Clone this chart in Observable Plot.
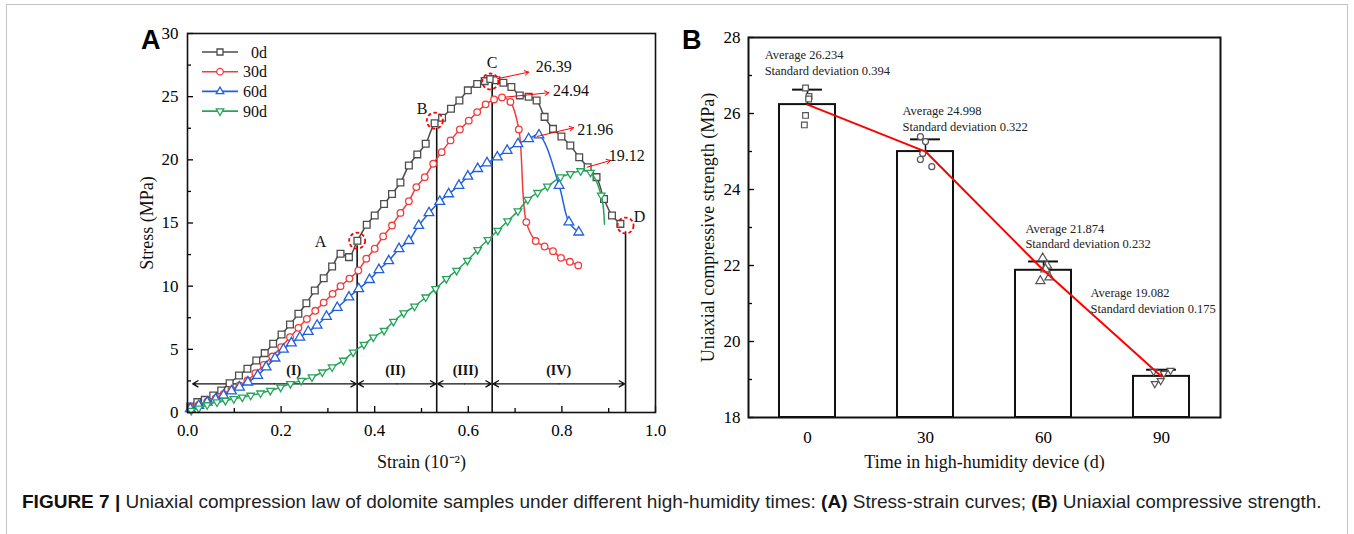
<!DOCTYPE html>
<html><head><meta charset="utf-8">
<script src="https://cdn.jsdelivr.net/npm/d3@7"></script>
<script src="https://cdn.jsdelivr.net/npm/@observablehq/plot@0.6"></script>
<style>
body{margin:0;background:#fff;}
#wrap{position:relative;width:1354px;height:534px;overflow:hidden;background:#fff;font-family:"Liberation Serif","Times New Roman",serif;}
#border{position:absolute;left:6px;top:4px;width:1342px;height:560px;border:1px solid #c4c4c4;box-sizing:border-box;}
.letter{position:absolute;font-family:"Liberation Sans",Arial,sans-serif;font-weight:bold;font-size:27px;line-height:27px;color:#000;}
#caption{position:absolute;left:22px;top:491px;font-family:"Liberation Sans",Arial,sans-serif;font-size:19px;color:#222;white-space:nowrap;}
#caption b{color:#111;}
.plot{position:absolute;top:0;}
#legend{position:absolute;left:195px;top:40px;}
</style></head>
<body><div id="wrap">
<div id="border"></div>
<div class="letter" style="left:141px;top:27px;">A</div>
<div class="letter" style="left:682px;top:27px;">B</div>
<div id="plotA" class="plot" style="left:100px;"></div>
<div id="plotB" class="plot" style="left:680px;"></div>
<svg id="legend" width="90" height="85"></svg>
<div id="caption"><b>FIGURE 7 |</b> Uniaxial compression law of dolomite samples under different high-humidity times: <b>(A)</b> Stress-strain curves; <b>(B)</b> Uniaxial compressive strength.</div>
</div>
<script>
// ---------- Panel A data ----------
const seriesNames = ["0d", "30d", "60d", "90d"];
const seriesColors = ["#4d4d4d", "#f23c3c", "#1f5fe0", "#25a55a"];

const strain0d = [0.006,0.021,0.037,0.055,0.072,0.09,0.11,0.128,0.147,0.165,0.183,0.201,0.219,0.237,0.254,0.272,0.291,0.309,0.327,0.345,0.363,0.383,0.40,0.42,0.437,0.455,0.473,0.491,0.509,0.528,0.544,0.563,0.581,0.599,0.619,0.635,0.647,0.66,0.675,0.692,0.71,0.729,0.746,0.763,0.781,0.799,0.818,0.837,0.855,0.874,0.89,0.907,0.925];
const stress0d = [0.47,0.82,1.0,1.35,1.74,2.32,2.93,3.46,4.12,4.7,5.44,6.18,6.97,7.81,8.65,9.66,10.63,11.56,12.57,12.3,13.6,14.86,15.6,16.5,17.3,18.2,19.55,20.43,21.27,22.9,23.33,24.05,24.7,25.5,26.0,26.23,26.39,26.3,26.1,25.76,25.1,25.0,24.7,23.4,22.45,21.85,21.14,20.2,19.42,18.63,16.9,15.6,14.93];

const strain30d = [0.006,0.024,0.042,0.06,0.077,0.094,0.111,0.128,0.145,0.163,0.181,0.2,0.219,0.237,0.255,0.273,0.291,0.31,0.327,0.346,0.365,0.382,0.4,0.418,0.437,0.455,0.473,0.489,0.507,0.525,0.543,0.562,0.582,0.601,0.619,0.637,0.655,0.672,0.69,0.708,0.724,0.744,0.763,0.781,0.798,0.817,0.835];
const stress30d = [0.4,0.6,0.85,1.12,1.45,1.8,2.15,2.53,3.11,3.77,4.43,5.17,5.96,6.7,7.4,8.05,8.7,9.39,10.0,10.6,11.24,12.17,12.96,13.94,14.8,15.8,16.73,17.84,18.63,19.69,20.61,21.54,22.4,23.1,23.78,24.39,24.78,24.94,24.58,22.41,15.07,13.57,13.14,12.77,12.24,11.93,11.64];

const strain60d = [0.006,0.024,0.042,0.06,0.077,0.094,0.111,0.129,0.15,0.168,0.187,0.205,0.222,0.24,0.258,0.277,0.297,0.32,0.345,0.366,0.389,0.409,0.43,0.452,0.473,0.494,0.516,0.539,0.558,0.58,0.599,0.62,0.64,0.662,0.683,0.706,0.729,0.751,0.794,0.815,0.836];
const stress60d = [0.3,0.55,0.8,1.05,1.35,1.7,2.0,2.4,2.93,3.6,4.3,5.0,5.5,5.95,6.4,6.9,7.6,8.3,9.13,9.79,10.51,11.3,12.0,12.96,13.6,14.8,15.8,16.7,17.3,17.97,18.7,19.3,19.75,20.22,20.74,21.27,21.66,21.96,17.97,15.07,14.27];

const strain90d = [0.008,0.024,0.042,0.063,0.081,0.099,0.117,0.135,0.156,0.177,0.199,0.22,0.243,0.266,0.288,0.309,0.333,0.354,0.377,0.397,0.42,0.44,0.462,0.485,0.509,0.53,0.553,0.575,0.598,0.62,0.642,0.663,0.684,0.706,0.727,0.748,0.769,0.797,0.818,0.84,0.861,0.884,0.891];
const stress90d = [0.16,0.34,0.6,0.82,0.95,1.08,1.21,1.35,1.53,1.74,2.0,2.27,2.53,2.8,3.19,3.59,4.12,4.77,5.38,5.96,6.49,7.2,7.87,8.4,9.13,9.79,10.58,11.24,12.03,12.88,13.67,14.4,15.15,15.94,16.85,17.4,17.9,18.63,18.9,19.12,19.0,17.2,14.9];
// the last recorded point of each curve is drawn with a marker except for 90d
const lastPointMarked = [true, true, true, false];

// phases
const phaseLabels = ["(I)", "(II)", "(III)", "(IV)"];
const phaseStart = [0.009, 0.3625, 0.5325, 0.651];
const phaseEnd = [0.3625, 0.5325, 0.651, 0.936];
const phaseLabelStrain = [0.227, 0.444, 0.594, 0.793];
const phaseArrowStress = 2.27;
const phaseLabelStress = 3.3;
const boundTop = [13.2, 22.5, 26.3, 14.3];

// characteristic points
const pointLabels = ["A", "B", "C", "D"];
const pointStrain = [0.3625, 0.5285, 0.647, 0.936];
const pointStress = [13.6, 23.1, 26.2, 14.8];
const pointLabelStrain = [0.284, 0.501, 0.651, 0.966];
const pointLabelStress = [13.5, 24.05, 27.7, 15.46];

// peak annotations
const peakLabels = ["26.39", "24.94", "21.96", "19.12"];
const peakStartStrain = [0.662, 0.679, 0.747, 0.854];
const peakStartStress = [26.42, 24.96, 21.85, 19.42];
const peakEndStrain = [0.729, 0.772, 0.825, 0.904];
const peakEndStress = [26.94, 25.31, 22.54, 19.95];
const peakTextStrain = [0.744, 0.781, 0.833, 0.9];
const peakTextStress = [27.34, 25.44, 22.4, 20.35];

// axis ticks A
const xTicksA = [0, 0.2, 0.4, 0.6, 0.8, 1.0];
const xMinorA = [0.1, 0.3, 0.5, 0.7, 0.9];
const yTicksA = [0, 5, 10, 15, 20, 25, 30];
const yMinorA = [2.5, 7.5, 12.5, 17.5, 22.5, 27.5];

// ---------- Panel B data ----------
const bTimes = [0, 30, 60, 90];
const bMeans = [26.234, 24.998, 21.874, 19.082];
const bSD = [0.394, 0.322, 0.232, 0.175];
const sampleX0 = [-0.5, 0.4, 0.3, -0.5, -0.8];
const sampleY0 = [26.67, 26.45, 26.38, 25.95, 25.70];
const sampleX30 = [28.7, 30.0, 29.3, 28.7, 31.6];
const sampleY30 = [25.39, 25.26, 24.95, 24.79, 24.60];
const sampleX60 = [59.8, 60.9, 61.5, 59.2, 60.5];
const sampleY60 = [22.19, 22.0, 21.69, 21.59, 21.9];
const sampleX90 = [88.0, 90.6, 92.3, 89.8, 88.3];
const sampleY90 = [19.21, 19.16, 19.24, 18.97, 18.89];
const annX = [-10.9, 24.15, 55.4, 71.95];
const annY = [27.355, 25.88, 22.79, 21.1];
const yTicksB = [18, 20, 22, 24, 26, 28];
const yMinorB = [19, 21, 23, 25, 27];

// ---------- helpers ----------
const triangleDown = {
  draw(context, size) {
    const s = Math.sqrt(size) * 0.6824, t = s / 2, u = s * Math.sqrt(3) / 2;
    context.moveTo(0, s); context.lineTo(u, -t); context.lineTo(-u, -t); context.closePath();
  }
};
const seriesSymbols = ["square", "circle", "triangle", triangleDown];
const seriesR = [3.8, 3.3, 3.6, 3.6];
const strains = [strain0d, strain30d, strain60d, strain90d];
const stresses = [stress0d, stress30d, stress60d, stress90d];
const serif = '"Liberation Serif","Times New Roman",serif';

// ---------- Panel A ----------
const seriesMarks = [];
seriesNames.forEach((name, i) => {
  const rows = strains[i].map((s, j) => ({s, v: stresses[i][j]}));
  const marked = lastPointMarked[i] ? rows : rows.slice(0, -1);
  seriesMarks.push(Plot.line(rows, {x: "s", y: "v", stroke: seriesColors[i], strokeWidth: 1.5, curve: "catmull-rom"}));
  seriesMarks.push(Plot.dot(marked, {x: "s", y: "v", symbol: seriesSymbols[i], r: seriesR[i], stroke: seriesColors[i], fill: "white", strokeWidth: 1.3}));
});

const phases = phaseLabels.map((l, i) => ({l, a: phaseStart[i], b: phaseEnd[i], mid: (phaseStart[i] + phaseEnd[i]) / 2, lx: phaseLabelStrain[i]}));
const bounds = phaseEnd.map((s, i) => ({s, top: boundTop[i]}));
const points = pointLabels.map((l, i) => ({l, s: pointStrain[i], v: pointStress[i], ls: pointLabelStrain[i], lv: pointLabelStress[i]}));
const peaks = peakLabels.map((l, i) => ({l, s1: peakStartStrain[i], v1: peakStartStress[i], s2: peakEndStrain[i], v2: peakEndStress[i], ts: peakTextStrain[i], tv: peakTextStress[i]}));

const plotA = Plot.plot({
  width: 580, height: 480,
  marginLeft: 87, marginRight: 25, marginTop: 33, marginBottom: 68,
  x: {domain: [0, 1]},
  y: {domain: [0, 30]},
  style: {fontFamily: serif, fontSize: "17px", color: "#000", background: "transparent", overflow: "visible"},
  marks: [
    Plot.axisX(xTicksA, {tickSize: -6, tickPadding: 17, tickFormat: d3.format(".1f"), label: null, strokeWidth: 1.3}),
    Plot.axisX(xMinorA, {tickSize: -4, tickFormat: () => "", label: null, strokeWidth: 1.3}),
    Plot.axisY(yTicksA, {tickSize: -6, tickPadding: 15, label: null, strokeWidth: 1.3}),
    Plot.axisY(yMinorA, {tickSize: -4, tickFormat: () => "", label: null, strokeWidth: 1.3}),
    Plot.ruleX(bounds, {x: "s", y1: 0, y2: "top", stroke: "#111", strokeWidth: 1.6}),
    Plot.arrow(phases, {x1: "mid", x2: "a", y1: phaseArrowStress, y2: phaseArrowStress, stroke: "#111", strokeWidth: 1.3, headLength: 7, insetEnd: 1}),
    Plot.arrow(phases, {x1: "mid", x2: "b", y1: phaseArrowStress, y2: phaseArrowStress, stroke: "#111", strokeWidth: 1.3, headLength: 7, insetEnd: 1}),
    Plot.text(phases, {x: "lx", y: phaseLabelStress, text: "l", fontWeight: "bold", fontSize: 14, fill: "#111"}),
    ...seriesMarks,
    Plot.dot(points, {x: "s", y: "v", r: 8, stroke: "#f00", strokeWidth: 1.8, strokeDasharray: "3.5,2.5", fill: "none"}),
    Plot.text(points, {x: "ls", y: "lv", text: "l", fontSize: 16, fill: "#111"}),
    Plot.arrow(peaks, {x1: "s1", y1: "v1", x2: "s2", y2: "v2", stroke: "#f00", strokeWidth: 1, headLength: 7}),
    Plot.text(peaks, {x: "ts", y: "tv", text: "l", textAnchor: "start", fontSize: 16, fill: "#111"}),
    Plot.text(["Stress (MPa)"], {frameAnchor: "left", dx: -40, rotate: -90, textAnchor: "middle", lineAnchor: "middle", fontSize: 18, fill: "#111"}),
    Plot.text(["Strain (10\u207B\u00B2)"], {frameAnchor: "bottom", dy: 50, textAnchor: "middle", lineAnchor: "middle", fontSize: 18, fill: "#111"}),
    Plot.frame({stroke: "#111", strokeWidth: 1.6})
  ]
});
document.getElementById("plotA").appendChild(plotA);

// ---------- Panel B ----------
const barHalf = 7.12, capHalf = 3.8;
const barRows = bTimes.map((t, i) => ({t, m: bMeans[i], sd: bSD[i],
  txt: `Average ${bMeans[i].toFixed(3)}\nStandard deviation ${bSD[i].toFixed(3)}`, ax: annX[i], ay: annY[i]}));
const sampleXs = [sampleX0, sampleX30, sampleX60, sampleX90];
const sampleYs = [sampleY0, sampleY30, sampleY60, sampleY90];
const sampleSymbols = ["square", "circle", "triangle", triangleDown];
const sampleR = [3.2, 3.0, 3.4, 3.4];
const sampleMarks = sampleXs.map((xs, i) =>
  Plot.dot(xs.map((x, j) => ({x, y: sampleYs[i][j]})), {x: "x", y: "y", symbol: sampleSymbols[i], r: sampleR[i], stroke: "#555", fill: "white", strokeWidth: 1.2}));

const plotB = Plot.plot({
  width: 560, height: 480,
  marginLeft: 68, marginRight: 20, marginTop: 37, marginBottom: 63,
  x: {domain: [-15, 105]},
  y: {domain: [18, 28]},
  style: {fontFamily: serif, fontSize: "17px", color: "#000", background: "transparent", overflow: "visible"},
  marks: [
    Plot.axisY(yTicksB, {tickSize: -6, tickPadding: 14, label: null, strokeWidth: 1.3}),
    Plot.axisY(yMinorB, {tickSize: -4, tickFormat: () => "", label: null, strokeWidth: 1.3}),
    Plot.axisX(bTimes, {tickSize: 0, tickPadding: 13, label: null}),
    Plot.rectY(barRows, {x1: d => d.t - barHalf, x2: d => d.t + barHalf, y1: 18, y2: "m", fill: "white", stroke: "#111", strokeWidth: 2}),
    Plot.ruleX(barRows, {x: "t", y1: "m", y2: d => d.m + d.sd, stroke: "#111", strokeWidth: 1.5}),
    Plot.ruleY(barRows, {y: d => d.m + d.sd, x1: d => d.t - capHalf, x2: d => d.t + capHalf, stroke: "#111", strokeWidth: 2}),
    ...sampleMarks,
    Plot.line(barRows, {x: "t", y: "m", stroke: "#f00", strokeWidth: 2}),
    Plot.text(barRows, {x: "ax", y: "ay", text: "txt", textAnchor: "start", lineAnchor: "middle", lineHeight: 1.25, fontSize: 12.5, fill: "#222"}),
    Plot.text(["Uniaxial compressive strength (MPa)"], {frameAnchor: "left", dx: -40, rotate: -90, textAnchor: "middle", lineAnchor: "middle", fontSize: 18, fill: "#111"}),
    Plot.text(["Time in high-humidity device (d)"], {frameAnchor: "bottom", dy: 45, textAnchor: "middle", lineAnchor: "middle", fontSize: 18, fill: "#111"}),
    Plot.frame({stroke: "#111", strokeWidth: 2})
  ]
});
document.getElementById("plotB").appendChild(plotB);

// ---------- Legend (panel A) ----------
const leg = d3.select("#legend");
const symTypes = [d3.symbolSquare2, d3.symbolCircle, d3.symbolTriangle2, triangleDown];
seriesNames.forEach((name, i) => {
  const y = 12 + i * 19.7;
  const g = leg.append("g").attr("transform", `translate(0,${y})`);
  g.append("line").attr("x1", 7).attr("x2", 43).attr("y1", 0).attr("y2", 0).attr("stroke", seriesColors[i]).attr("stroke-width", 1.6);
  g.append("path").attr("transform", "translate(25,0)")
    .attr("d", d3.symbol(symTypes[i], Math.PI * seriesR[i] * seriesR[i])())
    .attr("fill", "white").attr("stroke", seriesColors[i]).attr("stroke-width", 1.3);
  g.append("text").attr("x", 72).attr("y", 0).attr("dy", "0.35em").attr("text-anchor", "end")
    .attr("font-family", serif).attr("font-size", 16).attr("fill", "#111").text(name);
});
</script>
</body></html>
